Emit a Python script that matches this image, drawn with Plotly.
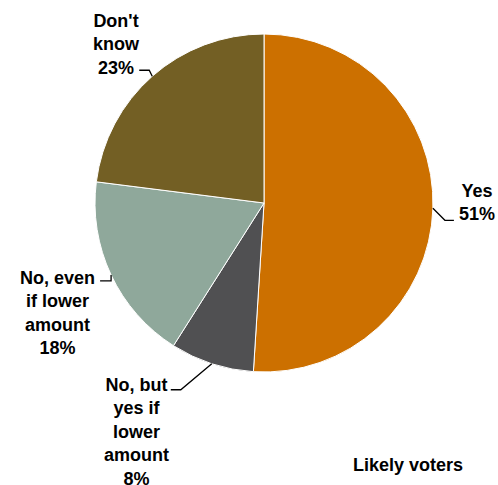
import math
import plotly.graph_objects as go

# Survey answers, clockwise from 12 o'clock
labels = ["Yes", "No, but yes if lower amount", "No, even if lower amount", "Don't know"]
values = [51, 8, 18, 23]
label_text = ["Yes<br>51%", "No, but<br>yes if<br>lower<br>amount<br>8%",
              "No, even<br>if lower<br>amount<br>18%", "Don't<br>know<br>23%"]
colors = ["#CC7000", "#505052", "#8FA89B", "#735F24"]
footer = "Likely voters"

W, H = 498, 485
CX, CY, R = 264, 203, 169  # pie centre and radius in pixels

def px(x):
    return x / W

def py(y):
    return 1 - y / H

fig = go.Figure(go.Pie(
    labels=labels, values=values, sort=False, direction="clockwise", rotation=0,
    marker=dict(colors=colors, line=dict(color="white", width=1)),
    textinfo="none", hoverinfo="skip", showlegend=False,
    domain=dict(x=[px(CX - R), px(CX + R)], y=[py(CY + R), py(CY - R)]),
))

# Label block centres and leader-line elbow/end offsets (pixels)
label_pos = [(477, 202), (136, 432), (57, 313), (116, 44)]
leader = [((12, 12), (21, 12)), ((-31, 26), (-41, 26)),
          ((0, 6), (-11, 6)), ((-3, -6), (-13, -6))]

total = sum(values)
cum = 0
for v, txt, (lx, ly), ((ex, ey), (tx, ty)) in zip(values, label_text, label_pos, leader):
    mid = (cum + v / 2) / total * 2 * math.pi
    cum += v
    sx = CX + R * math.sin(mid)
    sy = CY - R * math.cos(mid)
    path = (f"M {px(sx)} {py(sy)} L {px(sx + ex)} {py(sy + ey)} "
            f"L {px(sx + tx)} {py(sy + ty)}")
    fig.add_shape(type="path", path=path, xref="paper", yref="paper",
                  line=dict(color="black", width=1.3))
    fig.add_annotation(text=txt, x=px(lx), y=py(ly), xref="paper", yref="paper",
                       xanchor="center", yanchor="middle", showarrow=False,
                       align="center",
                       font=dict(family="Liberation Sans", size=18, color="black"))

fig.add_annotation(text=footer, x=px(408), y=py(465), xref="paper", yref="paper",
                   xanchor="center", yanchor="middle", showarrow=False,
                   font=dict(family="Liberation Sans", size=18, color="black"))

fig.update_layout(
    width=W, height=H, margin=dict(l=0, r=0, t=0, b=0),
    paper_bgcolor="white", plot_bgcolor="white",
    font=dict(family="Liberation Sans", size=18, color="black"),
)
# Bold labels throughout
for a in fig.layout.annotations:
    a.text = f"<b>{a.text}</b>"

fig.write_html("out.html")
